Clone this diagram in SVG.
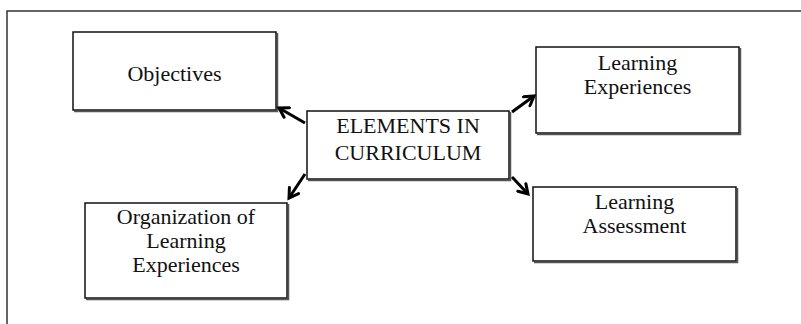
<svg xmlns="http://www.w3.org/2000/svg" width="801" height="324" viewBox="0 0 801 324">
<style>
.box{fill:#fff;stroke:#111;stroke-width:1.5}
.shadow{fill:none;stroke:#555;stroke-width:1.5}
.t{font-family:"Liberation Serif","Times New Roman",serif;font-size:22px;fill:#111;text-anchor:middle}
.arr{stroke:#000;stroke-width:3;fill:none;marker-end:url(#ah)}
.frame{stroke:#333;stroke-width:1.5;fill:none}
</style>
<defs>
<marker id="ah" markerUnits="userSpaceOnUse" viewBox="0 0 14 14" markerWidth="14" markerHeight="14" refX="11" refY="7" orient="auto">
<path d="M2,1.5 L11,7 L2,12.5" fill="none" stroke="#000" stroke-width="3" stroke-linecap="round" stroke-linejoin="miter"/>
</marker>
</defs>
<rect width="801" height="324" fill="#fff"/>
<path class="frame" d="M7,324 L7,11 L801,11"/>
<g id="objectives">
<path class="shadow" d="M277.5,33 V111.5 H74"/>
<rect class="box" x="73" y="32" width="203" height="78"/>
<text class="t" x="174.5" y="81">Objectives</text>
</g>
<g id="elements">
<path class="shadow" d="M510.5,112 V180.5 H308"/>
<rect class="box" x="307" y="111" width="202" height="68"/>
<text class="t" x="408" y="133">ELEMENTS IN</text>
<text class="t" x="408" y="159.5">CURRICULUM</text>
</g>
<g id="learning-experiences">
<path class="shadow" d="M740.5,48 V134.5 H537"/>
<rect class="box" x="536" y="47" width="203" height="86"/>
<text class="t" x="637.5" y="69.5">Learning</text>
<text class="t" x="637.5" y="93.5">Experiences</text>
</g>
<g id="organization">
<path class="shadow" d="M288.5,204 V299.5 H86"/>
<rect class="box" x="85" y="203" width="202" height="95"/>
<text class="t" x="186" y="223.5">Organization of</text>
<text class="t" x="186" y="248">Learning</text>
<text class="t" x="186" y="271.5">Experiences</text>
</g>
<g id="learning-assessment">
<path class="shadow" d="M737.5,188 V262.5 H534"/>
<rect class="box" x="533" y="187" width="203" height="74"/>
<text class="t" x="634.5" y="209">Learning</text>
<text class="t" x="634.5" y="233">Assessment</text>
</g>
<g id="connectors">
<line class="arr" x1="305" y1="123" x2="279" y2="108"/>
<line class="arr" x1="305" y1="174" x2="289" y2="198"/>
<line class="arr" x1="512" y1="112" x2="534" y2="96"/>
<line class="arr" x1="512" y1="177" x2="528" y2="194"/>
</g>
</svg>
